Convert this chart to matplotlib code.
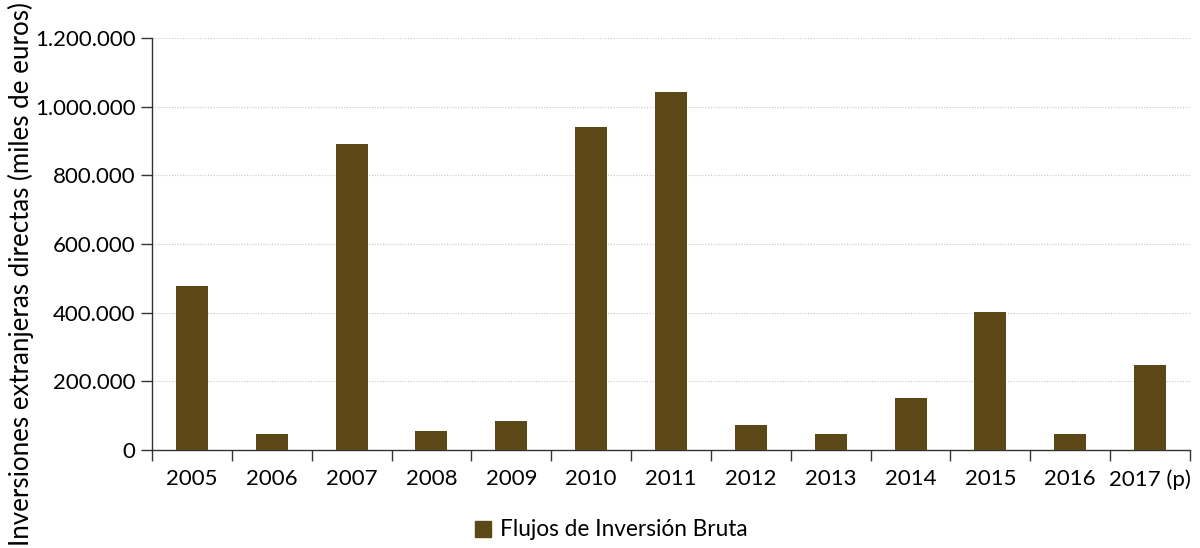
import matplotlib
matplotlib.use("Agg")
import matplotlib.pyplot as plt
from matplotlib.ticker import FuncFormatter, MultipleLocator
from matplotlib.patches import Patch

years = ["2005", "2006", "2007", "2008", "2009", "2010", "2011",
         "2012", "2013", "2014", "2015", "2016", "2017 (p)"]
values = [478000, 46000, 891000, 55000, 84000, 941000, 1043000,
          73000, 46000, 151000, 402000, 46000, 248000]
series_name = "Flujos de Inversión Bruta"
ylabel = "Inversiones extranjeras directas (miles de euros)"

plt.rcParams['font.family'] = ['Lato', 'DejaVu Sans']
color = '#5c4817'

fig = plt.figure(figsize=(12, 5.48), dpi=100)
ax = fig.add_axes([152/1200, 1-450/548, (1190-152)/1200, (450-38)/548])

x = list(range(len(years)))
ax.bar(x, values, width=0.4, color=color, zorder=3)

ax.set_xlim(-0.5, len(years) - 0.5)
ax.set_ylim(0, 1200000)
ax.yaxis.set_major_locator(MultipleLocator(200000))
ax.yaxis.set_major_formatter(FuncFormatter(lambda v, p: f"{int(v):,}".replace(",", ".")))

ax.set_xticks([i - 0.5 for i in range(len(years) + 1)])
ax.set_xticklabels([])
ax.set_xticks(x, minor=True)
ax.set_xticklabels(years, minor=True)
ax.tick_params(axis='x', which='minor', length=0, pad=14, labelsize=16)
ax.tick_params(axis='x', which='major', length=8, width=1, color='#333333')
ax.tick_params(axis='y', length=8, width=1, color='#333333', labelsize=16, pad=4)

for s in ['top', 'right']:
    ax.spines[s].set_visible(False)
for s in ['left', 'bottom']:
    ax.spines[s].set_color('#333333')
    ax.spines[s].set_linewidth(1)

for v in range(200000, 1200001, 200000):
    ax.axhline(v, color='#c8c8c8', linestyle=(0, (1, 1.5)), linewidth=0.8, zorder=1)

fig.text(21/1200, 0.5, ylabel, rotation=90, va='center', ha='center', fontsize=18.6)

fig.legend(handles=[Patch(color=color, label=series_name)], loc='center',
           bbox_to_anchor=(611/1200, 1-530/548), frameon=False, fontsize=16.3,
           handlelength=0.7, handleheight=0.7, handletextpad=0.4)

fig.savefig("out.png", dpi=100)
